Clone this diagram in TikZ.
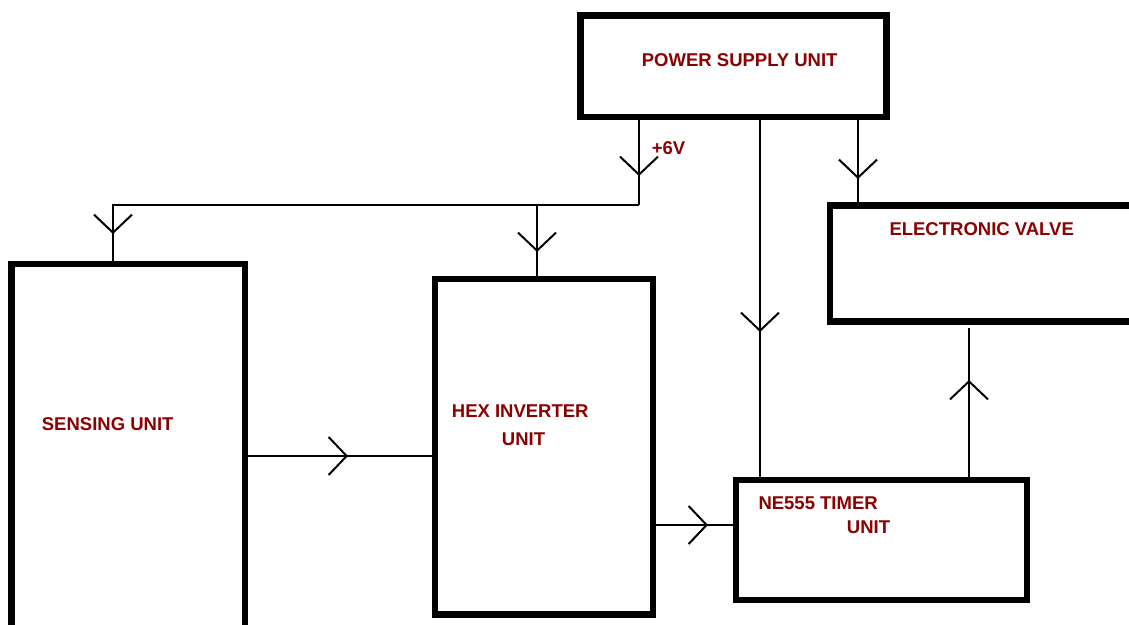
\documentclass[tikz,border=0pt]{standalone}
\usepackage{fontspec}
\setmainfont{Liberation Sans}
\usetikzlibrary{arrows.meta,decorations.markings}
\definecolor{lbl}{RGB}{139,0,0}
\tikzset{
  box/.style={draw=black, line width=6.5pt, rectangle, inner sep=0pt, outer sep=0pt},
  lab/.style={anchor=base west, inner sep=0pt, text=lbl, font=\fontsize{18.5}{22}\selectfont\bfseries},
  wire/.style={draw=black, line width=1.8pt},
  vtip/.tip={Straight Barb[length=18pt,width=38pt,line width=2pt]},
  midarrow/.style={postaction={decorate, decoration={markings, mark=at position #1 with {\arrow{vtip}}}}}
}
\begin{document}
\begin{tikzpicture}[x=1pt,y=-1pt]
\useasboundingbox (0,0) rectangle (1129,624);
\clip (0,0) rectangle (1129,624);
\fill[white] (0,0) rectangle (1129,624);
% boxes
\node[box, minimum width=306pt, minimum height=101.5pt] (ps) at (733.5,66.25) {};
\node[box, minimum width=233.5pt, minimum height=386pt] (sens) at (128.25,457) {};
\node[box, minimum width=218pt, minimum height=335.5pt] (hex) at (544,446.75) {};
\node[box, minimum width=291pt, minimum height=120pt] (ne) at (881.5,540) {};
\node[box, minimum width=320pt, minimum height=116.4pt] (valve) at (990,263.5) {};
% labels
\node[lab] (tps) at (641.7,66.6) {POWER SUPPLY UNIT};
\node[lab] (t6v) at (651.7,154.6) {+6V};
\node[lab] (tval) at (889.3,235.9) {ELECTRONIC VALVE};
\node[lab] (tsens) at (41.7,430.6) {SENSING UNIT};
\node[lab] (thex1) at (451.7,417.6) {HEX INVERTER};
\node[lab] (thex2) at (501.7,445.6) {UNIT};
\node[lab] (tne1) at (758.3,509.9) {NE555 TIMER};
\node[lab] (tne2) at (846.7,533.3) {UNIT};
% helper coordinates
\coordinate (j) at (639,205);
\coordinate (jl) at (113,205);
\coordinate (jm) at (537,205);
\coordinate (xm) at (760,0);
\coordinate (xr) at (858,0);
\coordinate (xv) at (969,0);
\coordinate (ys) at (0,456);
\coordinate (yh) at (0,525);
% connectors
\draw[wire, midarrow=59pt] (ps.south -| j) -- (j);
\draw[wire, midarrow=555pt] (j) -- (jl) -- (sens.north -| jl);
\draw[wire, midarrow=47pt] (jm) -- (hex.north -| jm);
\draw[wire, midarrow=215pt] (ps.south -| xm) -- (ne.north -| xm);
\draw[wire, midarrow=62pt] (ps.south -| xr) -- (valve.north -| xr);
\draw[wire, midarrow=103pt] (sens.east |- ys) -- (hex.west |- ys);
\draw[wire, midarrow=55pt] (hex.east |- yh) -- (ne.west |- yh);
\draw[wire, midarrow=100pt, shorten >=6pt] (ne.north -| xv) -- (valve.south -| xv);
\end{tikzpicture}
\end{document}
